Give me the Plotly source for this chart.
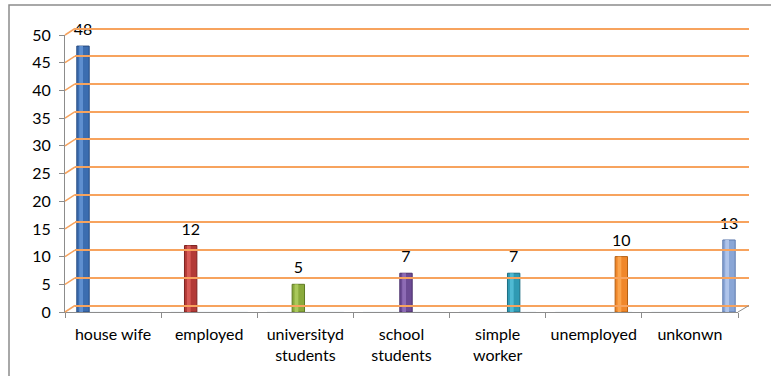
import plotly.graph_objects as go

categories = ["house wife", "employed", "universityd<br>students", "school<br>students",
              "simple<br>worker", "unemployed", "unkonwn"]
values = [48, 12, 5, 7, 7, 10, 13]
colors = ["#3C6DB0", "#B33A37", "#8AAA3C", "#6C4B94", "#2F9AB3", "#F0872A", "#8AA6D6"]
highlight_colors = ["#5F8FD0", "#D65A56", "#A9C85A", "#8D6BB5", "#4FBAD3", "#FBA54E", "#AFC4EA"]
line_colors = ["#254A80", "#7E2220", "#5E7A22", "#4A2F6B", "#1C6E82", "#B35F12", "#5D7AAE"]
y_ticks = [0, 5, 10, 15, 20, 25, 30, 35, 40, 45, 50]

W, H = 771, 376

def fx(px):
    return px / W

def fy(py):
    return 1 - py / H

fig = go.Figure()

# gridlines on shifted back-plane (drawn first, underneath)
fig.add_trace(go.Scatter(x=[None], y=[None], xaxis="x3", yaxis="y2", showlegend=False))

# invisible trace to carry category axis labels
fig.add_trace(go.Bar(x=categories, y=[0] * len(categories), xaxis="x", yaxis="y",
                     marker_color="rgba(0,0,0,0)", showlegend=False, hoverinfo="skip"))

# bars on back-plane axis
fig.add_trace(go.Bar(
    x=categories, y=values, xaxis="x2", yaxis="y",
    width=0.115,
    marker=dict(color=colors, line=dict(color=line_colors, width=1)),
    showlegend=False, hoverinfo="skip",
))
# highlight stripe to suggest cylinder shading
fig.add_trace(go.Bar(
    x=categories, y=values, xaxis="x2", yaxis="y",
    width=0.035, offset=-0.035,
    marker=dict(color=highlight_colors, line=dict(width=0)),
    showlegend=False, hoverinfo="skip",
))
# value labels (on a y axis lifted a few pixels, like the 3D cap offset)
fig.add_trace(go.Scatter(
    x=categories, y=values, xaxis="x2", yaxis="y3", mode="text",
    text=[str(v) for v in values], textposition="top center",
    textfont=dict(family="Lato", size=16, color="#000000"),
    cliponaxis=False, showlegend=False, hoverinfo="skip",
))

x0p, x1p = 65, 738
ytop, ybot = 35, 312
shift = 6.5
lift = 7
unit = (ybot - ytop) / 50.0
px_per_cat = (729 - 83) / 6.0
pad = 1.0  # data units of padding on back-plane axis so edge gridlines show

layout = dict(
    width=W, height=H,
    margin=dict(l=0, r=0, t=0, b=0),
    paper_bgcolor="white", plot_bgcolor="rgba(0,0,0,0)",
    font=dict(family="Lato", size=16, color="#000000"),
    barmode="overlay",
    xaxis=dict(domain=[fx(x0p), fx(x1p)], anchor="y", type="category",
               range=[-0.5, 6.5], showline=True, linecolor="#8C8C8C", linewidth=1,
               ticks="outside", tickson="boundaries", ticklen=5, tickcolor="#8C8C8C",
               showgrid=False, automargin=False, ticklabelstandoff=8,
               tickfont=dict(family="Lato", size=16, color="#000000")),
    xaxis2=dict(domain=[fx(x0p), fx(x1p)], anchor="y", overlaying="x", type="category",
                range=[-(83 - x0p) / px_per_cat, 6 + (x1p - 729) / px_per_cat],
                visible=False),
    xaxis3=dict(domain=[fx(75), fx(749)], anchor="y2", visible=False,
                range=[0, 1]),
    yaxis=dict(domain=[fy(ybot), fy(ytop)], anchor="x", range=[0, 50],
               tickvals=y_ticks, showline=True, linecolor="#8C8C8C", linewidth=1,
               ticks="outside", ticklen=5, tickcolor="#8C8C8C", showgrid=False,
               zeroline=False, automargin=False, ticklabelstandoff=5,
               tickfont=dict(family="Lato", size=16, color="#000000")),
    yaxis2=dict(domain=[fy(ybot - shift + pad * unit), fy(ytop - shift - pad * unit)],
                anchor="x3", range=[-pad, 50 + pad], tickvals=y_ticks,
                showticklabels=False, showgrid=True, gridcolor="#F7A35E", gridwidth=1.8,
                zeroline=False, showline=False, ticks=""),
    yaxis3=dict(domain=[fy(ybot - lift), fy(ytop - lift)], anchor="x2", range=[0, 50],
                visible=False, showgrid=False, zeroline=False),
)
fig.update_layout(**layout)

shapes = []
# diagonal connectors from axis to back-plane gridlines
for v in y_ticks:
    py = ybot - v * unit
    shapes.append(dict(type="line", xref="paper", yref="paper",
                       x0=fx(x0p), y0=fy(py), x1=fx(75), y1=fy(py - shift),
                       line=dict(color="#F7A35E", width=1.5)))
# floor right edge
shapes.append(dict(type="line", xref="paper", yref="paper",
                   x0=fx(x1p), y0=fy(ybot), x1=fx(749), y1=fy(ybot - shift),
                   line=dict(color="#8C8C8C", width=1)))
# chart border
shapes.append(dict(type="rect", xref="paper", yref="paper",
                   x0=fx(9), y0=fy(400), x1=fx(790), y1=fy(5),
                   line=dict(color="#8C8C8C", width=1.5), fillcolor="rgba(0,0,0,0)",
                   layer="below"))
fig.update_layout(shapes=shapes)

fig.write_html("out.html")
